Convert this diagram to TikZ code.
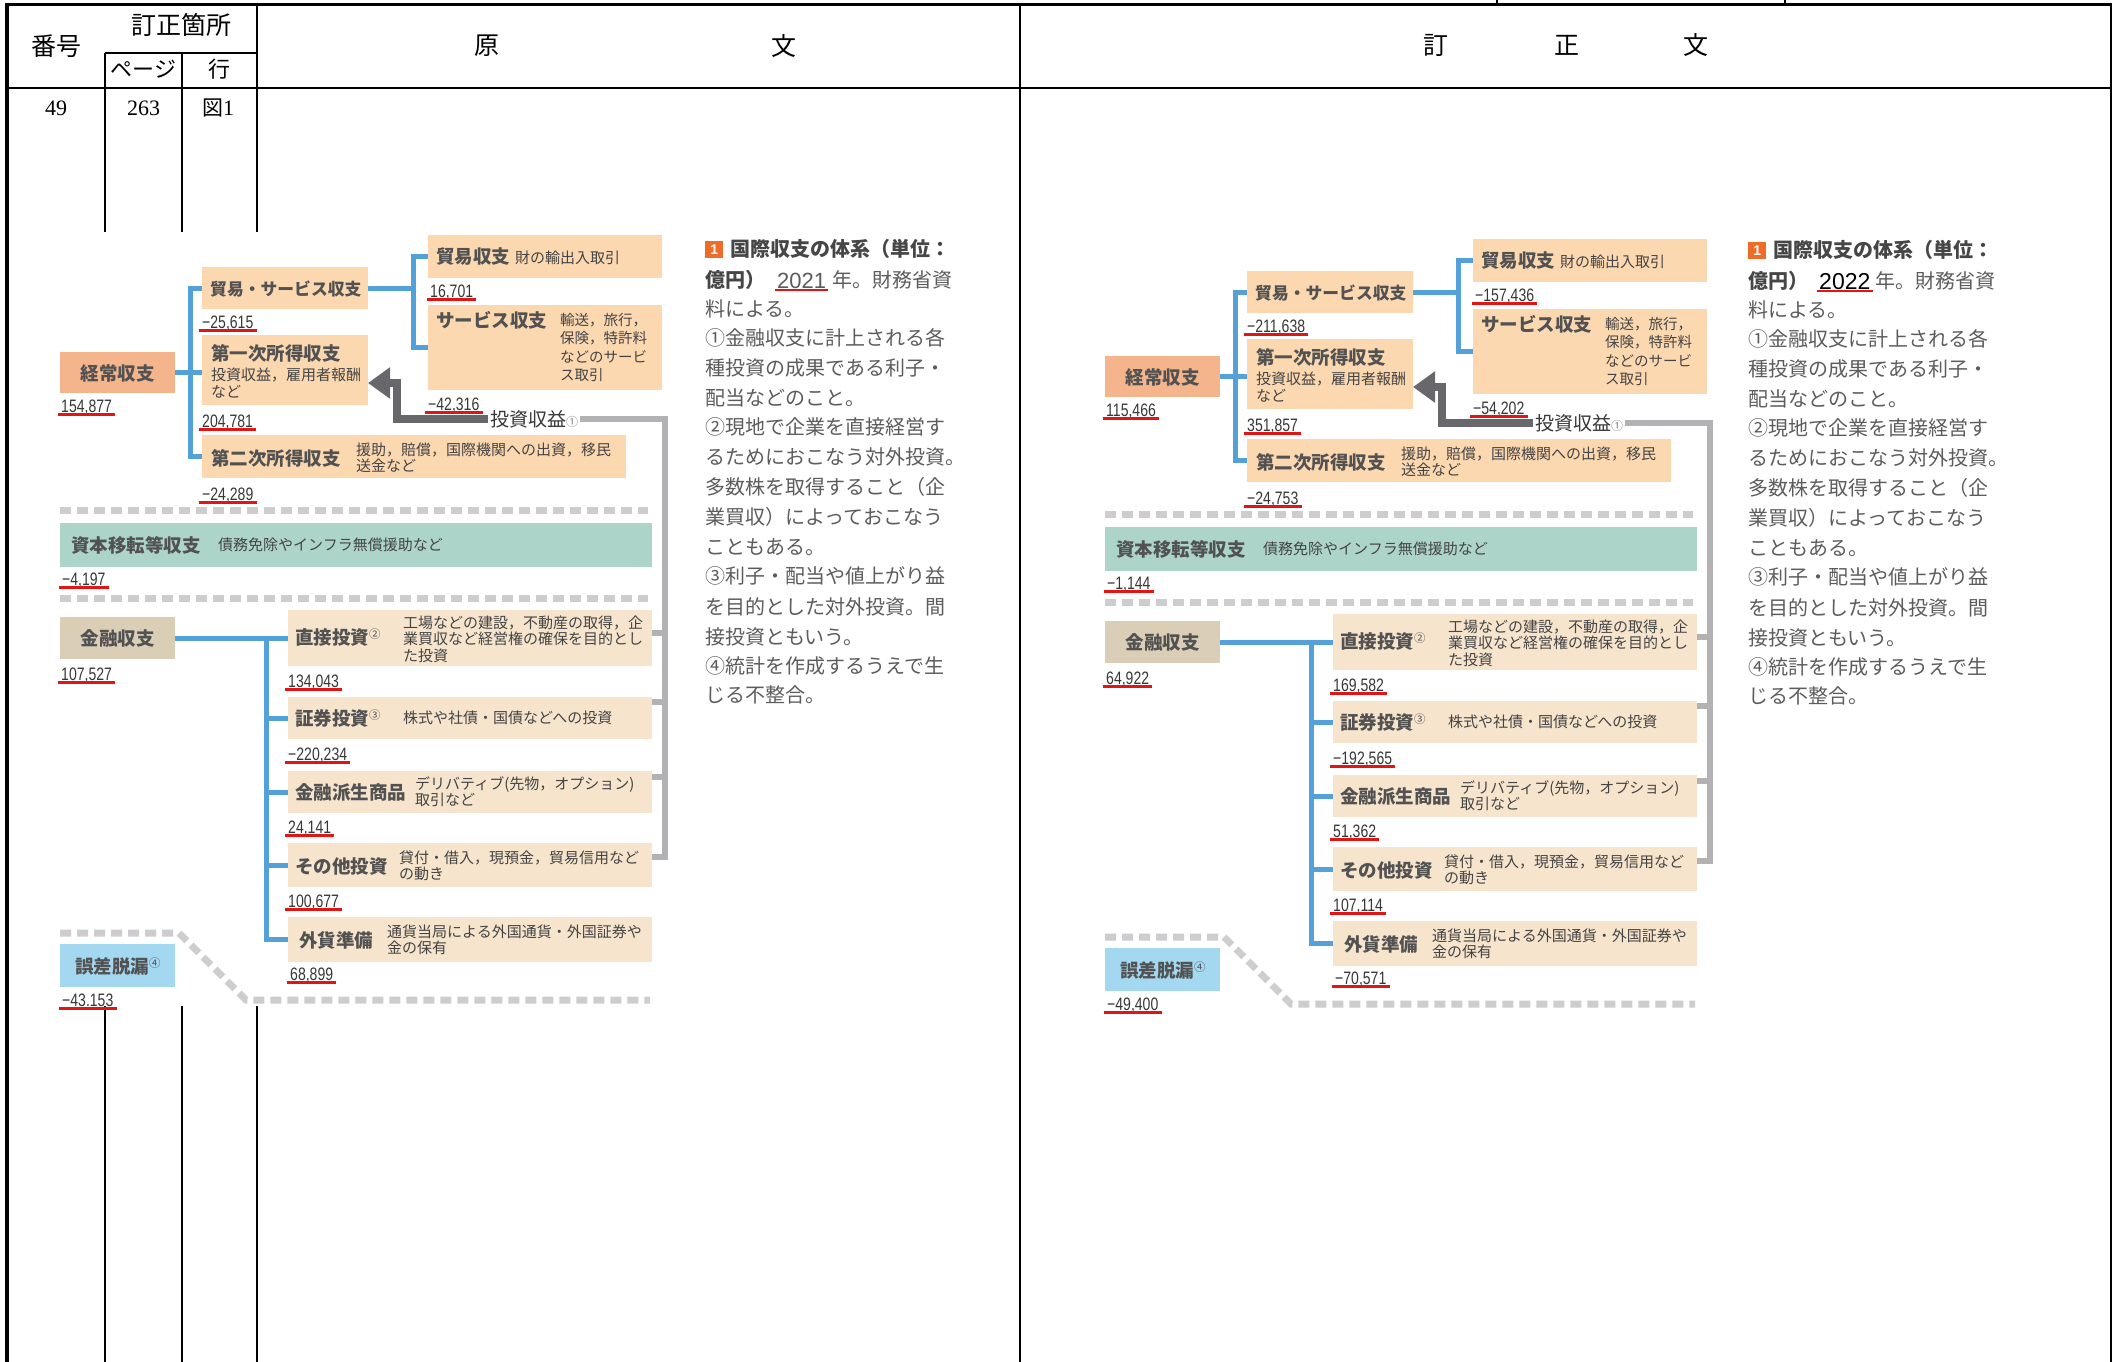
\documentclass[tikz,border=0pt]{standalone}
\usepackage{fontspec}
\usetikzlibrary{arrows.meta}
\newfontfamily\jp{Noto Sans CJK JP}
\newfontfamily\numf[FakeStretch=0.78]{Liberation Sans}
\newfontfamily\sernum{Liberation Serif}
\newfontfamily\yrf{Liberation Sans}

\definecolor{boxOr}{RGB}{244,180,140}
\definecolor{boxPe}{RGB}{252,216,176}
\definecolor{boxTeal}{RGB}{172,212,200}
\definecolor{boxTan}{RGB}{218,206,182}
\definecolor{boxBe}{RGB}{246,228,204}
\definecolor{boxSky}{RGB}{164,216,240}
\definecolor{conBlue}{RGB}{84,160,216}
\definecolor{dashGr}{RGB}{205,205,208}
\definecolor{lineGr}{RGB}{178,178,180}
\definecolor{arrGr}{RGB}{104,104,108}
\definecolor{txtD}{RGB}{82,82,82}
\definecolor{txtN}{RGB}{55,55,55}
\definecolor{txtM}{RGB}{68,68,68}
\definecolor{capT}{RGB}{92,92,92}
\definecolor{capH}{RGB}{70,70,70}
\definecolor{ulRed}{RGB}{228,20,20}
\definecolor{sqOr}{RGB}{238,108,40}

\tikzset{
  fbox/.style={draw=none, inner sep=0pt, outer sep=0pt, anchor=north west},
  ttl/.style={inner sep=0pt, anchor=west, font=\jp\bfseries\fontsize{18.5}{20}\selectfont, text=txtD},
  dsc/.style={inner sep=0pt, anchor=west, align=left, font=\jp\fontsize{15}{16.5}\selectfont, text=txtM},
  numt/.style={inner sep=0pt, anchor=base west, font=\numf\fontsize{18}{18}\selectfont, text=txtN},
  ulline/.style={draw=ulRed, line width=2.4pt},
  bcon/.style={draw=conBlue, line width=5pt},
  gcon/.style={draw=lineGr, line width=6pt},
  acon/.style={draw=arrGr, line width=8pt, -{Triangle[length=22pt,width=30pt]}},
  dashl/.style={draw=dashGr, line width=7pt, dash pattern=on 11pt off 6pt},
  tline/.style={draw=black, line width=1.4pt},
  hdr/.style={inner sep=0pt, font=\jp\fontsize{25}{25}\selectfont},
  hdrs/.style={inner sep=0pt, font=\jp\fontsize{22}{22}\selectfont},
  datn/.style={inner sep=0pt, font=\sernum\fontsize{22}{22}\selectfont},
  capb/.style={inner sep=0pt, anchor=west, font=\jp\bfseries\fontsize{20}{20}\selectfont, text=capH},
  capl/.style={inner sep=0pt, anchor=west, font=\jp\fontsize{20}{20}\selectfont, text=capT},
}

\newcommand\bx[6]{\node[fbox, fill=#2, minimum width={#5-#3}, minimum height={#6-#4}] (#1) at (#3,#4) {};}
\newcommand\nm[4]{\node[numt] (#1) at (#2,#3) {#4};
  \draw[ulline] ([shift={(-3,2.5)}]#1.base west) -- ([shift={(3,2.5)}]#1.base east);}
\newcommand\sups[1]{\raisebox{6pt}{\mdseries\fontsize{11.5}{11.5}\selectfont #1}}

\newcommand\bopfig{%
 \draw[dashl] (60,510) -- (648,510);
 \draw[dashl] (60,598) -- (648,598);
 \draw[dashl] (60,933) -- (179,933) -- (246,1000) -- (650,1000);
 \bx{keijo}{boxOr}{60}{352}{175}{393}
 \bx{bs}{boxPe}{202}{267}{368}{309}
 \bx{ichiji}{boxPe}{202}{335}{368}{405}
 \bx{niji}{boxPe}{202}{435}{626}{478}
 \bx{boeki}{boxPe}{428}{235}{662}{278}
 \bx{service}{boxPe}{428}{305}{662}{390}
 \bx{shihon}{boxTeal}{60}{523}{652}{567}
 \bx{kinyu}{boxTan}{60}{617}{175}{659}
 \bx{choku}{boxBe}{288}{610}{652}{666}
 \bx{shoken}{boxBe}{288}{697}{652}{739}
 \bx{hasei}{boxBe}{288}{771}{652}{813}
 \bx{sonota}{boxBe}{288}{843}{652}{887}
 \bx{gaika}{boxBe}{288}{917}{652}{962}
 \bx{gosa}{boxSky}{60}{944}{175}{987}
 % titles
 \node[ttl, anchor=center] (keijoT) at (117.5,373) {経常収支};
 \node[ttl, font=\jp\bfseries\fontsize{16.8}{18}\selectfont] (bsT) at (210,289) {貿易・サービス収支};
 \node[ttl] (ichijiT) at (211,353) {第一次所得収支};
 \node[ttl] (nijiT) at (211,458) {第二次所得収支};
 \node[ttl] (boekiT) at (436,257) {貿易収支};
 \node[ttl] (serviceT) at (436,320) {サービス収支};
 \node[ttl] (shihonT) at (71,545) {資本移転等収支};
 \node[ttl, anchor=center] (kinyuT) at (117.5,638) {金融収支};
 \node[ttl] (chokuT) at (295,637) {直接投資\sups{②}};
 \node[ttl] (shokenT) at (295,718) {証券投資\sups{③}};
 \node[ttl] (haseiT) at (295,792) {金融派生商品};
 \node[ttl] (sonotaT) at (295,866) {その他投資};
 \node[ttl] (gaikaT) at (299,940) {外貨準備};
 \node[ttl] (gosaT) at (75,966) {誤差脱漏\sups{④}};
 % descriptions
 \node[dsc] (boekiD) at (515,258) {財の輸出入取引};
 \node[dsc, font=\jp\fontsize{14.5}{18.3}\selectfont] (serviceD) at (560,347.5) {輸送，旅行，\\保険，特許料\\などのサービ\\ス取引};
 \node[dsc] (ichijiD) at (211,383) {投資収益，雇用者報酬\\など};
 \node[dsc] (nijiD) at (356,457.5) {援助，賠償，国際機関への出資，移民\\送金など};
 \node[dsc] (shihonD) at (218,545) {債務免除やインフラ無償援助など};
 \node[dsc] (chokuD) at (403,639) {工場などの建設，不動産の取得，企\\業買収など経営権の確保を目的とし\\た投資};
 \node[dsc] (shokenD) at (403,718) {株式や社債・国債などへの投資};
 \node[dsc] (haseiD) at (415,791.5) {デリバティブ(先物，オプション)\\取引など};
 \node[dsc] (sonotaD) at (399,866) {貸付・借入，現預金，貿易信用など\\の動き};
 \node[dsc] (gaikaD) at (387,940) {通貨当局による外国通貨・外国証券や\\金の保有};
 % numbers
 \nm{nKeijo}{61}{412}{\vA}
 \nm{nBs}{202}{328}{\vB}
 \nm{nIchiji}{202}{427}{\vC}
 \nm{nNiji}{202}{500}{\vD}
 \nm{nBoeki}{430}{297}{\vE}
 \nm{nService}{428}{410}{\vF}
 \nm{nShihon}{62}{585}{\vG}
 \nm{nKinyu}{61}{680}{\vH}
 \nm{nChoku}{288}{687}{\vI}
 \nm{nShoken}{288}{760}{\vJ}
 \nm{nHasei}{288}{833}{\vK}
 \nm{nSonota}{288}{907}{\vL}
 \nm{nGaika}{290}{980}{\vM}
 \nm{nGosa}{62}{1006}{\vN}
 % blue connectors
 \coordinate (kTr) at (266,638);
 \coordinate (bsJ) at (413,288);
 \draw[bcon] (keijo.east) -- (keijo.east -| ichiji.west);
 \draw[bcon] (bs.west) -- ++(-12,0) |- (niji.west);
 \draw[bcon] (bs.east) -- (bsJ);
 \draw[bcon] (boeki.west) -- ++(-15,0) |- (service.west);
 \draw[bcon] (kinyu.east) -- (choku.west);
 \draw[bcon] (kTr) |- (gaika.west);
 \foreach \b in {shoken,hasei,sonota} \draw[bcon] (\b.west -| kTr) -- (\b.west);
 % investment income
 \node[inner sep=2pt, anchor=west, font=\jp\fontsize{19}{19}\selectfont, text=txtN] (toushi) at (488,419) {投資収益\textcolor{gray}{\fontsize{12}{12}\selectfont ①}};
 \coordinate (gX) at (665,419);
 \coordinate (gS1) at (665,633);
 \coordinate (gS2) at (665,702);
 \coordinate (gS3) at (665,777);
 \coordinate (gS4) at (665,857);
 \draw[gcon] (toushi.east) -- (gX) -- (gS4) -- (gS4 -| sonota.east);
 \draw[gcon] (gS1) -- (gS1 -| choku.east);
 \draw[gcon] (gS2) -- (gS2 -| shoken.east);
 \draw[gcon] (gS3) -- (gS3 -| hasei.east);
 \coordinate (aK) at (397,383);
 \draw[acon] (toushi.west) -| (aK) -- (aK -| ichiji.east);
}

\newcommand\capt[1]{%
 \node[fill=sqOr, minimum width=18pt, minimum height=17pt, inner sep=0pt, anchor=north west, text=white, font=\yrf\bfseries\fontsize{14}{14}\selectfont] (sq) at (705,241) {1};
 \node[capb] (c1) at (730,249) {国際収支の体系（単位：};
 \node[capb] (c2a) at (705,280) {億円）};
 #1
 \draw[ulline, line width=2pt] ([shift={(-2,2)}]yr.base west) -- ([shift={(2,2)}]yr.base east);
 \node[capl] (c2b) at (832,280) {年。財務省資};
 \foreach \yy/\tx [count=\i] in {309/料による。, 338/①金融収支に計上される各, 368/種投資の成果である利子・, 398/配当などのこと。, 427/②現地で企業を直接経営す, 457/るためにおこなう対外投資。, 487/多数株を取得すること（企, 517/業買収）によっておこなう, 547/こともある。, 576/③利子・配当や値上がり益, 607/を目的とした対外投資。間, 637/接投資ともいう。, 666/④統計を作成するうえで生, 695/じる不整合。}
   \node[capl] (cl\i) at (705,\yy) {\tx};
}

\begin{document}
\begin{tikzpicture}[x=1pt,y=-1pt]
\useasboundingbox (0,0) rectangle (2114,1362);
\fill[white] (0,0) rectangle (2114,1362);

% ---- table ----
\draw[line width=3pt] (5.5,4.5) -- (2112,4.5);
\draw[line width=3.5pt] (7,3) -- (7,1362);
\draw[line width=2pt] (2111,3) -- (2111,1362);
\draw[tline] (7,88) -- (2111,88);
\draw[tline] (105,53) -- (257,53);
\draw[tline] (105,53) -- (105,232);
\draw[tline] (105,1006) -- (105,1362);
\draw[tline] (182,53) -- (182,232);
\draw[tline] (182,1006) -- (182,1362);
\draw[tline] (257,4.5) -- (257,232);
\draw[tline] (257,1006) -- (257,1362);
\draw[tline] (1020,4.5) -- (1020,1362);
\draw[tline] (1497,0) -- (1497,4.5);
\draw[tline] (1785,0) -- (1785,4.5);

\node[hdr] (hBango) at (56,46) {番号};
\node[hdr] (hTeisei) at (181,25) {訂正箇所};
\node[hdrs] (hPage) at (143.5,69) {ページ};
\node[hdrs] (hGyo) at (219.5,69) {行};
\node[hdr] (hGen) at (487,46) {原};
\node[hdr] (hBun1) at (784,46) {文};
\node[hdr] (hTei) at (1436,45) {訂};
\node[hdr] (hSei) at (1567,45) {正};
\node[hdr] (hBun2) at (1696,45) {文};
\node[datn] (d49) at (56,108) {49};
\node[datn] (d263) at (143.5,108) {263};
\node[datn] (dFig) at (218,108) {{\jp\fontsize{21}{21}\selectfont 図}1};

% ---- left figure ----
\def\vA{154,877}\def\vB{−25,615}\def\vC{204,781}\def\vD{−24,289}
\def\vE{16,701}\def\vF{−42,316}\def\vG{−4,197}\def\vH{107,527}
\def\vI{134,043}\def\vJ{−220,234}\def\vK{24,141}\def\vL{100,677}
\def\vM{68,899}\def\vN{−43.153}
\begin{scope}[name prefix=L-]
\bopfig
\capt{\node[inner sep=0pt, anchor=base west, font=\yrf\fontsize{22}{22}\selectfont, text=capT] (yr) at (777,288) {2021};}
\end{scope}

% ---- right figure ----
\def\vA{115,466}\def\vB{−211,638}\def\vC{351,857}\def\vD{−24,753}
\def\vE{−157,436}\def\vF{−54,202}\def\vG{−1,144}\def\vH{64,922}
\def\vI{169,582}\def\vJ{−192,565}\def\vK{51,362}\def\vL{107,114}
\def\vM{−70,571}\def\vN{−49,400}
\begin{scope}[shift={(1045,4)}, name prefix=R-]
\bopfig
\end{scope}
\begin{scope}[shift={(1043,1)}, name prefix=RC-]
\capt{\node[inner sep=0pt, anchor=base west, font=\yrf\fontsize{23}{23}\selectfont, text=black] (yr) at (776,288) {2022};}
\end{scope}
\end{tikzpicture}
\end{document}
